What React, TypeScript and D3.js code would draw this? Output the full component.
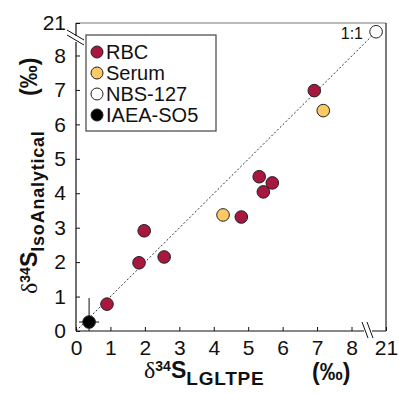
import * as d3 from "d3";
import { useEffect, useRef } from "react";

// values (‰)
const rbcX = [0.9, 1.83, 1.98, 2.56, 4.8, 5.32, 5.7, 5.44, 6.92];
const rbcY = [0.78, 1.98, 2.91, 2.15, 3.31, 4.48, 4.3, 4.04, 6.98];
const serumX = [4.27, 7.18];
const serumY = [3.37, 6.4];
const nbsX = [20.3];
const nbsY = [20.3];
const iaeaX = [0.38];
const iaeaY = [0.26];
const iaeaErrX = [0.29];
const iaeaErrY = [0.7];
const tickValues = [0, 1, 2, 3, 4, 5, 6, 7, 8, 21];
const legendLabels = ["RBC", "Serum", "NBS-127", "IAEA-SO5"];
const legendColors = ["#a8173d", "#fdc965", "#ffffff", "#000000"];

export default function App() {
	const ref = useRef<SVGSVGElement>(null);

	useEffect(() => {
		if (!ref.current) return;
		const svg = d3.select(ref.current);
		svg.selectAll("*").remove();

		const left = 76, right = 386, top = 23, bottom = 331;
		const font = "'Liberation Sans', Arial, sans-serif";

		// broken scales: 0..8.45 linear, then a jump up to the 19.8..21 section
		const x = d3.scaleLinear().domain([0, 8.45, 19.8, 21]).range([left, 367, 369, right]);
		const y = d3.scaleLinear().domain([0, 8.45, 19.8, 21]).range([bottom, 40, 38, top]);

		svg.append("defs").append("clipPath").attr("id", "plotclip")
			.append("rect").attr("x", left).attr("y", top)
			.attr("width", right - left).attr("height", bottom - top);

		// frame
		svg.append("line").attr("x1", left).attr("x2", right).attr("y1", top).attr("y2", top)
			.attr("stroke", "#777").attr("stroke-width", 1.2);
		svg.append("line").attr("x1", right).attr("x2", right).attr("y1", top).attr("y2", bottom)
			.attr("stroke", "#222").attr("stroke-width", 1.2);
		svg.append("line").attr("x1", left).attr("x2", left).attr("y1", top).attr("y2", bottom)
			.attr("stroke", "#111").attr("stroke-width", 1.2);
		svg.append("line").attr("x1", left).attr("x2", right).attr("y1", bottom).attr("y2", bottom)
			.attr("stroke", "#111").attr("stroke-width", 1.2);

		// ticks
		const xAxis = svg.append("g").attr("transform", `translate(0,${bottom})`)
			.call(d3.axisBottom(x).tickValues(tickValues).tickSizeInner(-4).tickSizeOuter(0).tickPadding(9));
		const yAxis = svg.append("g").attr("transform", `translate(${left},0)`)
			.call(d3.axisLeft(y).tickValues(tickValues).tickSizeInner(-4).tickSizeOuter(0).tickPadding(10));
		[xAxis, yAxis].forEach((a) => {
			a.select(".domain").remove();
			a.selectAll("text").attr("font-family", font).attr("font-size", 21).attr("fill", "#111");
			a.selectAll("line").attr("stroke", "#111");
		});

		// axis breaks
		svg.append("rect").attr("x", left - 3).attr("y", 36).attr("width", 6).attr("height", 6).attr("fill", "white");
		svg.append("rect").attr("x", 364).attr("y", bottom - 3).attr("width", 8).attr("height", 6).attr("fill", "white");
		[0, 5].forEach((o) => {
			svg.append("line").attr("x1", 67).attr("y1", 30 + o).attr("x2", 84).attr("y2", 40 + o)
				.attr("stroke", "#111").attr("stroke-width", 1);
			svg.append("line").attr("x1", 362 + o).attr("y1", 322).attr("x2", 368 + o).attr("y2", 338)
				.attr("stroke", "#111").attr("stroke-width", 1);
		});

		const plot = svg.append("g").attr("clip-path", "url(#plotclip)");

		// 1:1 line
		plot.append("line")
			.attr("x1", x(0)).attr("y1", y(0)).attr("x2", x(nbsX[0])).attr("y2", y(nbsY[0]))
			.attr("stroke", "#333").attr("stroke-width", 1).attr("stroke-dasharray", "2,2");
		svg.append("text").attr("x", 363).attr("y", 39).attr("text-anchor", "end")
			.attr("font-family", font).attr("font-size", 16).attr("fill", "#111").text("1:1");

		// IAEA-SO5 error bars
		iaeaX.forEach((v, i) => {
			plot.append("line").attr("x1", x(v - iaeaErrX[i])).attr("x2", x(v + iaeaErrX[i]))
				.attr("y1", y(iaeaY[i])).attr("y2", y(iaeaY[i])).attr("stroke", "#111").attr("stroke-width", 1);
			plot.append("line").attr("x1", x(v)).attr("x2", x(v))
				.attr("y1", y(iaeaY[i] - iaeaErrY[i])).attr("y2", y(iaeaY[i] + iaeaErrY[i]))
				.attr("stroke", "#111").attr("stroke-width", 1);
		});

		const series = [
			{ xs: rbcX, ys: rbcY, fill: legendColors[0] },
			{ xs: serumX, ys: serumY, fill: legendColors[1] },
			{ xs: nbsX, ys: nbsY, fill: legendColors[2] },
			{ xs: iaeaX, ys: iaeaY, fill: legendColors[3] },
		];
		series.forEach((s) => {
			plot.append("g").selectAll("circle").data(s.xs).enter().append("circle")
				.attr("cx", (d) => x(d)).attr("cy", (_d, i) => y(s.ys[i])).attr("r", 6.3)
				.attr("fill", s.fill).attr("stroke", "#222").attr("stroke-width", 1);
		});

		// legend
		const lg = svg.append("g");
		lg.append("rect").attr("x", 86).attr("y", 35).attr("width", 130).attr("height", 96)
			.attr("fill", "white").attr("stroke", "#444").attr("stroke-width", 1.2);
		legendLabels.forEach((l, i) => {
			const cy = 52 + i * 21;
			lg.append("circle").attr("cx", 97).attr("cy", cy).attr("r", 6)
				.attr("fill", legendColors[i]).attr("stroke", "#222").attr("stroke-width", 1);
			lg.append("text").attr("x", 106).attr("y", cy + 7).attr("font-family", font)
				.attr("font-size", 20).attr("fill", "#111").text(l);
		});

		// x title
		const xt = svg.append("text").attr("x", 144).attr("y", 378).attr("fill", "#111");
		xt.append("tspan").attr("font-family", "'Liberation Serif', serif").attr("font-size", 24).text("δ");
		xt.append("tspan").attr("font-family", font).attr("font-weight", "bold").attr("font-size", 14).attr("dy", -7).text("34");
		xt.append("tspan").attr("font-family", font).attr("font-weight", "bold").attr("font-size", 23).attr("dy", 7).text("S");
		xt.append("tspan").attr("font-family", font).attr("font-weight", "bold").attr("font-size", 19)
			.attr("letter-spacing", 0.8).attr("dy", 7).text("LGLTPE");
		svg.append("text").attr("x", 312).attr("y", 380).attr("font-family", font).attr("font-weight", "bold")
			.attr("font-size", 23).attr("fill", "#111").text("(‰)");

		// y title
		const yg = svg.append("g").attr("transform", "translate(37,294) rotate(-90)");
		const yt = yg.append("text").attr("x", 0).attr("y", 0).attr("fill", "#111");
		yt.append("tspan").attr("font-family", "'Liberation Serif', serif").attr("font-size", 24).text("δ");
		yt.append("tspan").attr("font-family", font).attr("font-weight", "bold").attr("font-size", 14).attr("dy", -7).text("34");
		yt.append("tspan").attr("font-family", font).attr("font-weight", "bold").attr("font-size", 23).attr("dy", 7).text("S");
		yt.append("tspan").attr("font-family", font).attr("font-weight", "bold").attr("font-size", 18)
			.attr("letter-spacing", 0.8).attr("dy", 7).text("IsoAnalytical");
		yg.append("text").attr("x", 198).attr("y", 0).attr("font-family", font).attr("font-weight", "bold")
			.attr("font-size", 23).attr("fill", "#111").text("(‰)");
	}, []);

	return (
		<svg ref={ref} width={399} height={394}
			style={{ position: "absolute", left: 0, top: 0, background: "white" }} />
	);
}
